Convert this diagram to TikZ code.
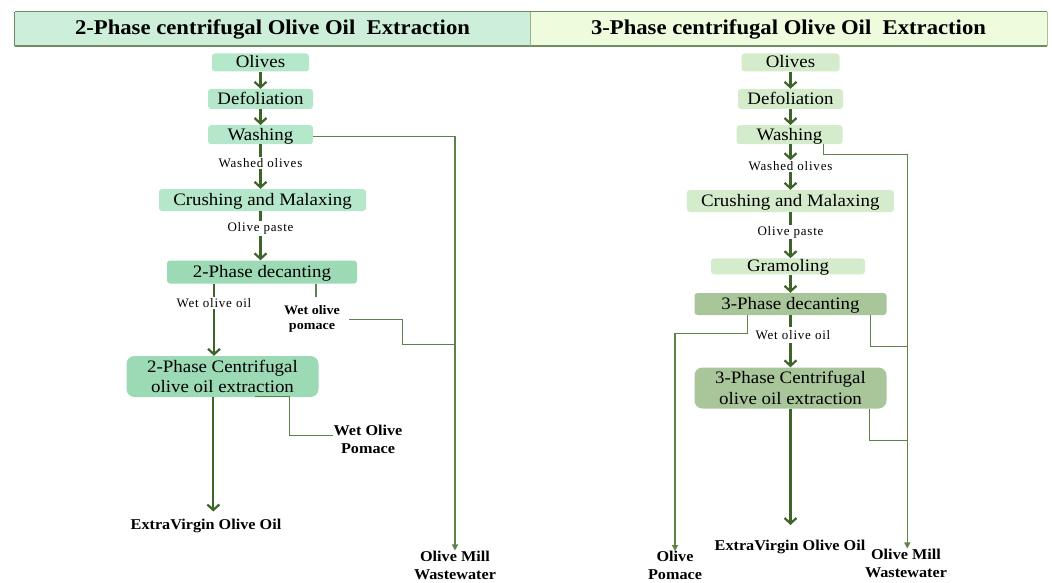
\documentclass[tikz,border=0pt]{standalone}
\usepackage{fontspec}
\setmainfont{Liberation Serif}[FakeStretch=1.08]
\newfontfamily\lblfont{Liberation Serif}[LetterSpace=6]
\usetikzlibrary{arrows.meta}

\definecolor{titleL}{HTML}{CDEFDA}
\definecolor{titleR}{HTML}{EEFCDD}
\definecolor{titleedge}{HTML}{6E8C62}
\definecolor{stepL}{HTML}{B5E7CA}
\definecolor{stepLd}{HTML}{9BDAB4}
\definecolor{stepR}{HTML}{D4ECCB}
\definecolor{stepRd}{HTML}{A9C69B}
\definecolor{flowc}{HTML}{3E6429}
\definecolor{branchc}{HTML}{5D8348}

\tikzset{
  stage/.style={rectangle, rounded corners=3pt, inner sep=0pt, align=center,
    text height=13pt, text depth=2pt,
    font=\fontsize{17.5}{20.5}\selectfont},
  bigstage/.style={rectangle, rounded corners=8pt, inner sep=0pt, align=center,
    font=\fontsize{17.5}{20.5}\selectfont},
  streamlbl/.style={fill=white, inner sep=1pt, font=\lblfont\fontsize{13}{14}\selectfont},
  outlbl/.style={align=center, inner sep=0pt, font=\bfseries\fontsize{15}{18}\selectfont},
  smalloutlbl/.style={align=center, inner sep=0pt, font=\bfseries\fontsize{13}{15.5}\selectfont},
  flow/.style={draw=flowc, line width=2.3pt},
  flowarrow/.style={flow, -{Straight Barb[length=5.5pt,width=12pt,line width=2.2pt]}},
  branch/.style={draw=branchc, line width=1.3pt},
  brancharrow/.style={branch, -{Triangle[length=6pt,width=6pt]}},
  titlebox/.style={rectangle, inner sep=0pt, minimum height=34pt,
    font=\bfseries\fontsize{21}{24}\selectfont}
}

\begin{document}
\begin{tikzpicture}[x=1pt,y=-1pt]
\useasboundingbox (0,0) rectangle (1052,583);

% ---------- headers ----------
\node[titlebox, fill=titleL, minimum width=515pt] (hL) at (272.5,29) {2-Phase centrifugal Olive Oil\ \ Extraction};
\node[titlebox, fill=titleR, minimum width=517pt] (hR) at (788.5,29) {3-Phase centrifugal Olive Oil\ \ Extraction};
\draw[titleedge, line width=1pt] (hL.north west) -- (hR.north east);
\draw[titleedge, line width=1.6pt] (hL.south west) -- (hR.south east);
\draw[titleedge, line width=1.2pt] (hL.north west) -- (hL.south west);
\draw[titleedge!70, line width=0.8pt] (hL.north east) -- (hL.south east);
\draw[titleedge!60, line width=0.8pt] (hR.north east) -- (hR.south east);

% ---------- 2-phase line ----------
\node[stage, fill=stepL, minimum width=97pt, minimum height=18pt] (ol1) at (260.5,62.5) {Olives};
\node[stage, fill=stepL, minimum width=105pt, minimum height=20pt] (de1) at (260.5,99) {Defoliation};
\node[stage, fill=stepL, minimum width=105pt, minimum height=19pt] (wa1) at (260.5,134.7) {Washing};
\node[streamlbl] (wo1) at (260.5,163) {Washed olives};
\node[stage, fill=stepL, minimum width=207pt, minimum height=22pt] (cr1) at (262.5,200) {Crushing and Malaxing};
\node[streamlbl] (op1) at (260.5,228.5) {Olive paste};
\node[stage, fill=stepLd, minimum width=190pt, minimum height=23pt] (dc1) at (262,272) {2-Phase decanting};
\node[streamlbl] (woo1) at (214,303) {Wet olive oil};
\node[smalloutlbl] (wop1) at (312,319) {Wet olive\\pomace};
\node[bigstage, fill=stepLd, minimum width=192pt, minimum height=41pt] (ce1) at (222.5,376.5) {2-Phase Centrifugal\\olive oil extraction};
\node[outlbl] (ev1) at (206,526) {ExtraVirgin Olive Oil};
\node[outlbl] (wp1) at (368,439) {Wet Olive\\Pomace};
\node[outlbl] (om1) at (455,565) {Olive Mill\\Wastewater};

\draw[flowarrow] (ol1) -- (de1);
\draw[flowarrow] (de1) -- (wa1);
\draw[flow] (wa1) -- (wo1);
\draw[flowarrow] (wo1) -- (wo1 |- cr1.north);
\draw[flow] (cr1.south -| op1) -- (op1);
\draw[flowarrow] (op1) -- (op1 |- dc1.north);
\draw[flow] (dc1.south -| woo1) -- (woo1);
\draw[flowarrow] (woo1) -- (woo1 |- ce1.north);
\draw[flowarrow] (ce1.south -| 213.3,0) -- (213.3,511.5);

\coordinate (w1a) at (455,136.7);
\coordinate (m1) at (455,344.3);
\draw[brancharrow] (wa1.east |- w1a) -- (w1a) -- (om1.north -| w1a);
\draw[branch] (dc1.south -| 316,0) -- (316,296.5);
\draw[branch] (349,319.3) -- (402.7,319.3) -- (402.7,344.3) -- (m1);
\draw[branch] (255,396.7) -- (289.3,396.7) -- (289.3,435.7) -- (wp1.west |- 0,435.7);

% ---------- 3-phase line ----------
\node[stage, fill=stepR, minimum width=98pt, minimum height=18pt] (ol2) at (790.5,62.5) {Olives};
\node[stage, fill=stepR, minimum width=105pt, minimum height=20pt] (de2) at (790.5,99) {Defoliation};
\node[stage, fill=stepR, minimum width=106pt, minimum height=19pt] (wa2) at (789.5,134.7) {Washing};
\node[streamlbl] (wo2) at (790.5,166) {Washed olives};
\node[stage, fill=stepR, minimum width=207pt, minimum height=22pt] (cr2) at (790.3,201) {Crushing and Malaxing};
\node[streamlbl] (op2) at (790.5,232) {Olive paste};
\node[stage, fill=stepR, minimum width=154pt, minimum height=16pt] (gr2) at (788,266.3) {Gramoling};
\node[stage, fill=stepRd, minimum width=192pt, minimum height=22pt] (dc2) at (790.5,304) {3-Phase decanting};
\node[streamlbl] (woo2) at (793,335) {Wet olive oil};
\node[bigstage, fill=stepRd, minimum width=192pt, minimum height=41pt] (ce2) at (790.5,388) {3-Phase Centrifugal\\olive oil extraction};
\node[outlbl] (ev2) at (790,546.5) {ExtraVirgin Olive Oil};
\node[outlbl] (pm2) at (675,565.5) {Olive\\Pomace};
\node[outlbl] (om2) at (906,563) {Olive Mill\\Wastewater};

\draw[flowarrow] (ol2) -- (de2);
\draw[flowarrow] (de2) -- (de2 |- wa2.north);
\draw[flowarrow] (wa2.south -| wo2) -- (wo2);
\draw[flowarrow] (wo2) -- (wo2 |- cr2.north);
\draw[flow] (cr2.south -| op2) -- (op2);
\draw[flowarrow] (op2) -- (op2 |- gr2.north);
\draw[flowarrow] (gr2.south -| op2) -- (op2 |- dc2.north);
\draw[flow] (dc2.south -| 790.5,0) -- (790.5,327);
\draw[flowarrow] (790.5,343) -- (ce2.north -| 790.5,0);
\draw[flowarrow] (ce2.south -| 790.5,0) -- (790.5,525);

\coordinate (w2a) at (823.3,154.3);
\coordinate (w2b) at (907.3,154.3);
\draw[brancharrow] (wa2.south -| w2a) -- (w2a) -- (w2b) -- (om2.north -| w2b);
\draw[branch] (dc2.south -| 870.3,0) -- (870.3,346.7) -- (907.3,346.7);
\draw[branch] (ce2.south -| 869.3,0) -- (869.3,440.7) -- (907.3,440.7);
\draw[brancharrow] (dc2.south -| 747.3,0) -- (747.3,333.3) -- (675,333.3) -- (pm2.north);
\end{tikzpicture}
\end{document}
